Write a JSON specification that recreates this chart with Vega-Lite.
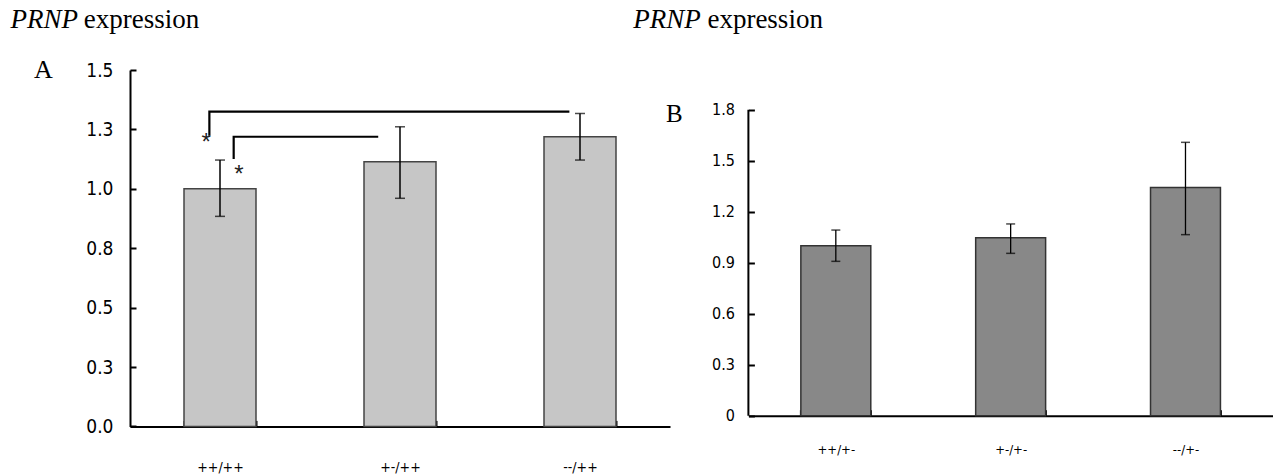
{
  "$schema": "https://vega.github.io/schema/vega-lite/v6.json",
  "background": "white",
  "padding": {"left": 10, "top": 5, "right": 0, "bottom": 0},
  "bounds": "flush",
  "spacing": 78.4,
  "config": {
    "view": {"stroke": null},
    "axis": {"grid": false, "labelColor": "#000", "domainColor": "#000", "tickColor": "#000", "labelFont": "DejaVu Sans Condensed"}
  },
  "datasets": {
    "groupsA": [
      {"genotype": "++/++", "mean": 1.0, "lo": 0.884, "hi": 1.121},
      {"genotype": "+-/++", "mean": 1.114, "lo": 0.96, "hi": 1.261},
      {"genotype": "--/++", "mean": 1.219, "lo": 1.121, "hi": 1.317}
    ],
    "bracketsA": [
      {"bracket": "long", "step": 1, "pos": 0.441, "val": 1.223},
      {"bracket": "long", "step": 2, "pos": 0.441, "val": 1.3245},
      {"bracket": "long", "step": 3, "pos": 2.441, "val": 1.3245},
      {"bracket": "short", "step": 1, "pos": 0.576, "val": 1.125},
      {"bracket": "short", "step": 2, "pos": 0.576, "val": 1.219},
      {"bracket": "short", "step": 3, "pos": 1.379, "val": 1.219}
    ],
    "groupsB": [
      {"genotype": "++/+-", "mean": 1.0, "lo": 0.908, "hi": 1.092},
      {"genotype": "+-/+-", "mean": 1.047, "lo": 0.955, "hi": 1.128},
      {"genotype": "--/+-", "mean": 1.343, "lo": 1.065, "hi": 1.608}
    ]
  },
  "hconcat": [
    {
      "width": 540,
      "height": 356.4,
      "layer": [
        {
          "data": {"name": "groupsA"},
          "encoding": {
            "x": {
              "field": "genotype", "type": "nominal", "sort": null,
              "scale": {"paddingInner": 0.6, "paddingOuter": 0.3},
              "axis": {"title": null, "labelAngle": 0, "tickBand": "extent", "tickSize": -6, "tickWidth": 2, "domainWidth": 2, "labelFontSize": 14, "labelPadding": 40}
            }
          },
          "layer": [
            {
              "mark": {"type": "bar", "fill": "#c6c6c6", "stroke": "#444", "strokeWidth": 1.5},
              "encoding": {
                "y": {
                  "field": "mean", "type": "quantitative", "title": null,
                  "scale": {"domain": [0, 1.5], "nice": false},
                  "axis": {"title": null, "values": [0, 0.25, 0.5, 0.75, 1, 1.25, 1.5], "format": ".1f", "tickSize": -6, "tickWidth": 2, "domainWidth": 2, "labelFontSize": 19, "labelPadding": 23}
                }
              }
            },
            {
              "mark": {"type": "rule", "color": "#000", "strokeWidth": 1.5},
              "encoding": {"y": {"field": "lo", "type": "quantitative", "title": null}, "y2": {"field": "hi"}}
            },
            {
              "mark": {"type": "tick", "color": "#000", "size": 10, "thickness": 1.5},
              "encoding": {"y": {"field": "lo", "type": "quantitative", "title": null}}
            },
            {
              "mark": {"type": "tick", "color": "#000", "size": 10, "thickness": 1.5},
              "encoding": {"y": {"field": "hi", "type": "quantitative", "title": null}}
            }
          ]
        },
        {
          "encoding": {
            "x": {"field": "pos", "type": "quantitative", "scale": {"domain": [0, 3], "nice": false, "zero": false}, "axis": null}
          },
          "layer": [
            {
              "data": {"name": "bracketsA"},
              "mark": {"type": "line", "color": "#000", "strokeWidth": 2.2},
              "encoding": {
                "y": {"field": "val", "type": "quantitative", "title": null},
                "detail": {"field": "bracket"},
                "order": {"field": "step"}
              }
            },
            {
              "data": {"values": [{"label": "*", "pos": 0.4228, "val": 1.162}, {"label": "*", "pos": 0.6056, "val": 1.0274}]},
              "mark": {"type": "text", "font": "Liberation Sans", "fontSize": 24, "align": "center", "baseline": "alphabetic", "color": "#222"},
              "encoding": {"y": {"field": "val", "type": "quantitative", "title": null}, "text": {"field": "label"}}
            },
            {
              "data": {"values": [{"label": "PRNP", "pos": -0.664, "val": 1.678}]},
              "mark": {"type": "text", "font": "Liberation Serif", "fontStyle": "italic", "fontSize": 27, "align": "left", "baseline": "alphabetic", "color": "#000"},
              "encoding": {"y": {"field": "val", "type": "quantitative", "title": null}, "text": {"field": "label"}}
            },
            {
              "data": {"values": [{"label": "expression", "pos": -0.257, "val": 1.678}]},
              "mark": {"type": "text", "font": "Liberation Serif", "fontSize": 27, "align": "left", "baseline": "alphabetic", "color": "#000"},
              "encoding": {"y": {"field": "val", "type": "quantitative", "title": null}, "text": {"field": "label"}}
            },
            {
              "data": {"values": [{"label": "A", "pos": -0.481, "val": 1.4676}]},
              "mark": {"type": "text", "font": "Liberation Serif", "fontSize": 26, "align": "center", "baseline": "alphabetic", "color": "#000"},
              "encoding": {"y": {"field": "val", "type": "quantitative", "title": null}, "text": {"field": "label"}}
            }
          ]
        }
      ],
      "resolve": {"scale": {"x": "independent"}}
    },
    {
      "width": 524.5,
      "height": 345.7,
      "layer": [
        {
          "data": {"name": "groupsB"},
          "encoding": {
            "x": {
              "field": "genotype", "type": "nominal", "sort": null,
              "scale": {"paddingInner": 0.6, "paddingOuter": 0.3},
              "axis": {"title": null, "labelAngle": 0, "tickBand": "extent", "tickSize": -6, "tickWidth": 2, "domainWidth": 2, "labelFontSize": 13, "labelPadding": 34}
            }
          },
          "layer": [
            {
              "mark": {"type": "bar", "fill": "#888888", "stroke": "#333", "strokeWidth": 1.5},
              "encoding": {
                "y": {
                  "field": "mean", "type": "quantitative", "title": null,
                  "scale": {"domain": [0, 2.0335], "nice": false},
                  "axis": {"title": null, "values": [0, 0.3, 0.6, 0.9, 1.2, 1.5, 1.8], "format": ".1~f", "domain": false, "tickSize": -6, "tickWidth": 2, "labelFontSize": 16, "labelPadding": 20}
                }
              }
            },
            {
              "mark": {"type": "rule", "color": "#000", "strokeWidth": 1.3},
              "encoding": {"y": {"field": "lo", "type": "quantitative", "title": null}, "y2": {"field": "hi"}}
            },
            {
              "mark": {"type": "tick", "color": "#000", "size": 9, "thickness": 1.5},
              "encoding": {"y": {"field": "lo", "type": "quantitative", "title": null}}
            },
            {
              "mark": {"type": "tick", "color": "#000", "size": 9, "thickness": 1.5},
              "encoding": {"y": {"field": "hi", "type": "quantitative", "title": null}}
            }
          ]
        },
        {
          "encoding": {
            "x": {"field": "pos", "type": "quantitative", "scale": {"domain": [0, 3], "nice": false, "zero": false}, "axis": null}
          },
          "layer": [
            {
              "data": {"values": [{"pos": 0, "val": 0, "val2": 1.8}]},
              "mark": {"type": "rule", "color": "#000", "strokeWidth": 2},
              "encoding": {"y": {"field": "val", "type": "quantitative", "title": null}, "y2": {"field": "val2"}}
            },
            {
              "data": {"values": [{"label": "PRNP", "pos": -0.658, "val": 2.282}]},
              "mark": {"type": "text", "font": "Liberation Serif", "fontStyle": "italic", "fontSize": 27, "align": "left", "baseline": "alphabetic", "color": "#000"},
              "encoding": {"y": {"field": "val", "type": "quantitative", "title": null}, "text": {"field": "label"}}
            },
            {
              "data": {"values": [{"label": "expression", "pos": -0.2345, "val": 2.282}]},
              "mark": {"type": "text", "font": "Liberation Serif", "fontSize": 27, "align": "left", "baseline": "alphabetic", "color": "#000"},
              "encoding": {"y": {"field": "val", "type": "quantitative", "title": null}, "text": {"field": "label"}}
            },
            {
              "data": {"values": [{"label": "B", "pos": -0.423, "val": 1.725}]},
              "mark": {"type": "text", "font": "Liberation Serif", "fontSize": 25, "align": "center", "baseline": "alphabetic", "color": "#000"},
              "encoding": {"y": {"field": "val", "type": "quantitative", "title": null}, "text": {"field": "label"}}
            }
          ]
        }
      ],
      "resolve": {"scale": {"x": "independent"}}
    }
  ]
}
